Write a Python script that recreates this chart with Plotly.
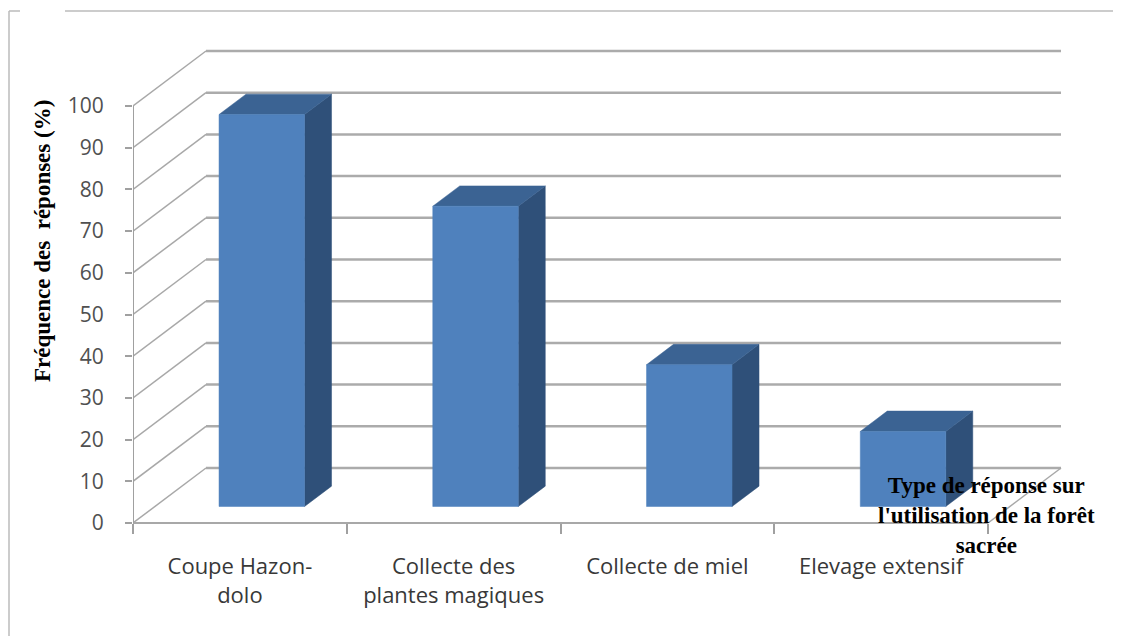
import plotly.graph_objects as go

# ---- data ----
categories = ["Coupe Hazon-dolo", "Collecte des plantes magiques", "Collecte de miel", "Elevage extensif"]
tick_labels = ["Coupe Hazon-<br>dolo", "Collecte des<br>plantes magiques", "Collecte de miel", "Elevage extensif"]
values = [94, 72, 34, 18]
y_ticks = list(range(0, 101, 10))
y_title = "Fréquence des  réponses (%)"
x_title = "Type de réponse sur<br>l'utilisation de la forêt<br>sacrée"

# ---- page / projection settings (style) ----
OFF = 8                      # default page body margin
W, H = 1121 - OFF, 636 - OFF
DX = 0.3415      # depth shift in category units (back wall)
DY = 13.19       # depth shift in value units (back wall)
Z0, Z1 = 0.30, 0.67   # bar front/back depth fractions
BW = 0.40        # bar width (category units)
FRONT, TOP, SIDE = "#4F81BD", "#3B6393", "#2F5079"
GRID = "#ABABAB"
n = len(categories)
ymax = max(y_ticks)

def P(x, y, z):
    return x + z * DX, y + z * DY

fig = go.Figure()

def poly(pts, color, width=0, lcolor=None, fill=True):
    xs = [p[0] for p in pts]
    ys = [p[1] for p in pts]
    if fill:
        xs.append(xs[0]); ys.append(ys[0])
    fig.add_trace(go.Scatter(
        x=xs, y=ys, mode="lines",
        fill="toself" if fill else None, fillcolor=color if fill else None,
        line=dict(color=lcolor or color, width=width),
        hoverinfo="skip", showlegend=False))

# gridlines: left wall diagonals + back wall horizontals
for v in y_ticks:
    poly([P(0, v, 0), P(0, v, 1)], None, width=1.5, lcolor="#A8A8A8", fill=False)
    poly([P(0, v, 1), P(n, v, 1)], None, width=2.5, lcolor=GRID, fill=False)
# floor edges
poly([P(0, 0, 0), P(n, 0, 0)], None, width=2, lcolor="#A8A8A8", fill=False)
poly([P(n, 0, 0), P(n, 0, 1)], None, width=1.5, lcolor="#A8A8A8", fill=False)
# vertical value axis line
poly([P(0, 0, 0), P(0, ymax, 0)], None, width=2, lcolor="#A0A0A0", fill=False)

# bars
for i, v in enumerate(values):
    xl = i + (1 - BW) / 2
    xr = xl + BW
    front = [P(xl, 0, Z0), P(xr, 0, Z0), P(xr, v, Z0), P(xl, v, Z0)]
    side = [P(xr, 0, Z0), P(xr, 0, Z1), P(xr, v, Z1), P(xr, v, Z0)]
    top = [P(xl, v, Z0), P(xr, v, Z0), P(xr, v, Z1), P(xl, v, Z1)]
    poly(side, SIDE, width=0.5)
    poly(top, TOP, width=0.5)
    poly(front, FRONT, width=0.5)

# axis geometry (pixel calibration, figure coordinates)
x0_px = 133.0 - OFF
px_per_cat = 213.75
y0_px = 523.0 - OFF
px_per_val = 4.17
xdom0 = x0_px / W
xr_max = (W - x0_px) / px_per_cat
yr_top = y0_px / px_per_val
yr_bot = -(H - y0_px) / px_per_val
xpos = (H - y0_px) / H

fig.update_layout(
    width=W, height=H,
    margin=dict(l=0, r=0, t=0, b=0),
    paper_bgcolor="white", plot_bgcolor="white",
    showlegend=False,
    xaxis=dict(domain=[xdom0, 1], range=[0, xr_max], anchor="free", position=xpos,
               tickvals=[i + 0.5 for i in range(n)], ticktext=tick_labels,
               ticks="", showline=False, showgrid=False, zeroline=False,
               tickfont=dict(family="Open Sans", size=22, color="#383838"),
               ticklabelstandoff=28, fixedrange=True),
    xaxis2=dict(overlaying="x", range=[0, xr_max], domain=[xdom0, 1], anchor="free", position=xpos,
                tickvals=list(range(n + 1)), ticks="outside", ticklen=10, tickwidth=2,
                tickcolor="#A0A0A0", showticklabels=False, showline=False, showgrid=False,
                zeroline=False),
    yaxis=dict(domain=[0, 1], range=[yr_bot, yr_top], anchor="x",
               tickvals=y_ticks, ticks="outside", ticklen=7, tickwidth=2, tickcolor="#A0A0A0",
               showline=False, showgrid=False, zeroline=False,
               tickfont=dict(family="Open Sans", size=21, color="#505050"),
               ticklabelstandoff=17),
)
# invisible trace to activate xaxis2
fig.add_trace(go.Scatter(x=[0], y=[0], xaxis="x2", mode="markers", marker=dict(opacity=0),
                         hoverinfo="skip", showlegend=False))

# titles
fig.add_annotation(text=f"<b>{y_title}</b>", xref="paper", yref="paper",
                   x=(43 - OFF) / W, y=1 - (241 - OFF) / H, xanchor="center", yanchor="middle",
                   showarrow=False, textangle=-90,
                   font=dict(family="Liberation Serif", size=23, color="#000000"))
fig.add_annotation(text=f"<b>{x_title}</b>", xref="paper", yref="paper",
                   x=(986 - OFF) / W, y=1 - (515 - OFF) / H, xanchor="center", yanchor="middle",
                   showarrow=False, align="center",
                   font=dict(family="Liberation Serif", size=23, color="#000000"))

# outer frame
fy = 1 - (11 - OFF) / H
fx = (9 - OFF) / W
fig.add_shape(type="line", xref="paper", yref="paper", x0=fx, x1=fx, y0=0, y1=fy,
              line=dict(color="#BBBBBB", width=1.5))
fig.add_shape(type="line", xref="paper", yref="paper", x0=fx, x1=(20 - OFF) / W, y0=fy, y1=fy,
              line=dict(color="#BBBBBB", width=1.5))
fig.add_shape(type="line", xref="paper", yref="paper", x0=(65 - OFF) / W, x1=1, y0=fy, y1=fy,
              line=dict(color="#BBBBBB", width=1.5))

fig.write_html("out.html")
